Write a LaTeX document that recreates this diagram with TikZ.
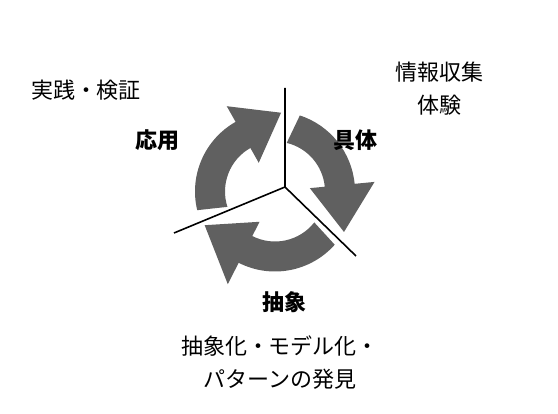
\documentclass[tikz,border=0pt]{standalone}
\usepackage{fontspec}
\setmainfont{Noto Sans CJK JP}
\definecolor{arrowgray}{HTML}{606060}
\begin{document}
\begin{tikzpicture}[x=1pt,y=1pt,
  arrowfill/.style={fill=arrowgray},
  divider/.style={line width=1.6pt,black},
  plain/.style={font=\fontsize{22}{33}\selectfont, align=center, inner sep=0pt},
  headlabel/.style={font=\fontsize{22}{33}\selectfont\bfseries, inner sep=0pt}]
\useasboundingbox (0,0) rectangle (558,-414);
% cycle arrows
\begin{scope}[shift={(275,-191.5)}]
\fill[arrowfill] (193.5:80pt) arc[start angle=193.5,end angle=119.5,radius=80pt]
  -- (119.5:98pt) -- (85.6:79pt) -- (119.5:33pt) -- (119.5:50pt)
  arc[start angle=119.5,end angle=197.9,radius=50pt] -- cycle;
\fill[arrowfill] (71.9:80pt) arc[start angle=71.9,end angle=5.5,radius=80pt]
  -- (5.5:100pt) -- (-30.4:80pt) -- (5.5:35pt) -- (5.5:50pt)
  arc[start angle=5.5,end angle=76.4,radius=50pt] -- cycle;
\fill[arrowfill] (318.3:80pt) arc[start angle=318.3,end angle=243,radius=80pt]
  -- (243:104pt) -- (205.6:78pt) -- (243:34pt) -- (243:50pt)
  arc[start angle=243,end angle=321.8,radius=50pt] -- cycle;
\end{scope}
% dividers
\coordinate (hub) at (285,-187);
\coordinate (upEnd) at (285,-88);
\coordinate (rightEnd) at (356,-256);
\coordinate (leftEnd) at (174,-233);
\draw[divider] (upEnd) -- (hub) -- (rightEnd);
\draw[divider] (hub) -- (leftEnd);
% labels
\node[plain] (practice) at (86,-90) {実践・検証};
\node[plain] (info) at (439,-88.5) {情報収集\\体験};
\node[headlabel] (apply) at (157,-140) {応用};
\node[headlabel] (concrete) at (355,-140) {具体};
\node[headlabel] (abstract) at (284,-302) {抽象};
\node[plain] (abstrtext) at (280,-363) {抽象化・モデル化・\\パターンの発見};
\end{tikzpicture}
\end{document}
